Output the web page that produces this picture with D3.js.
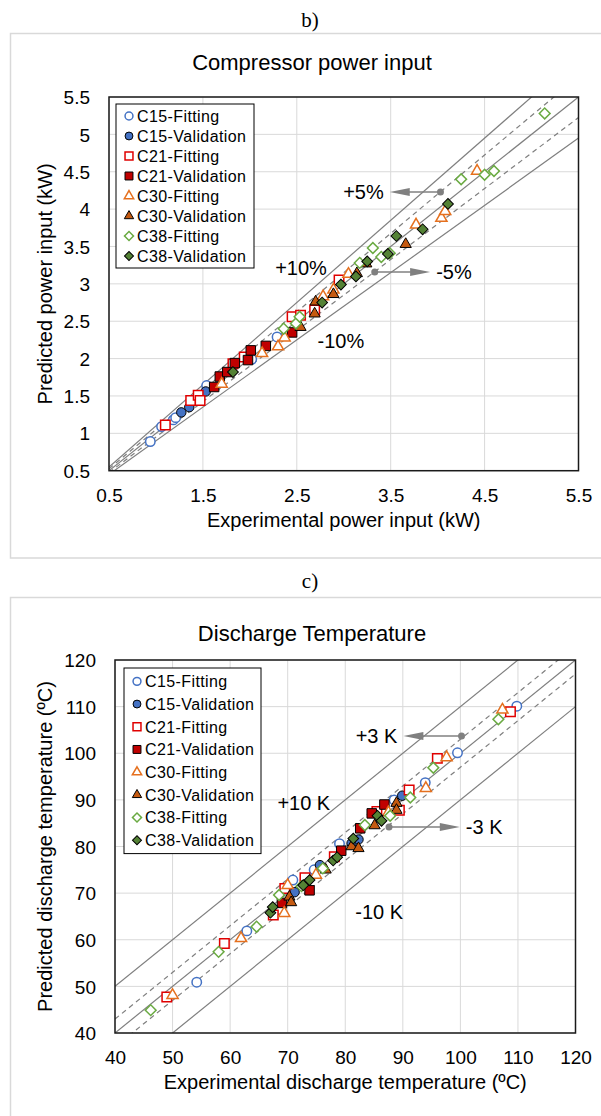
<!DOCTYPE html>
<html>
<head>
<meta charset="utf-8">
<script src="https://cdn.jsdelivr.net/npm/d3@7"></script>
<style>
  body { margin: 0; background: #fff; }
  svg { display: block; }
  text { font-family: "Liberation Sans", Arial, sans-serif; fill: #000; }
</style>
</head>
<body>
<script>
// ---- b) compressor power input, [experimental, predicted] in kW
let powerC15Fit = [[0.94, 0.89], [1.06, 1.09], [1.185, 1.18], [1.21, 1.21], [1.54, 1.64], [2.02, 1.99], [2.29, 2.29]]
let powerC15Val = [[1.27, 1.28], [1.355, 1.35], [1.45, 1.49], [1.53, 1.56]]
let powerC21Fit = [[1.10, 1.11], [1.37, 1.44], [1.45, 1.51], [1.47, 1.44], [1.82, 1.93], [1.94, 2.02], [2.45, 2.56], [2.54, 2.58], [2.69, 2.65], [2.95, 3.05]]
let powerC21Val = [[1.62, 1.62], [1.68, 1.76], [1.76, 1.82], [1.84, 1.94], [1.98, 1.98], [2.01, 2.11], [2.17, 2.17], [2.45, 2.35]]
let powerC30Fit = [[1.70, 1.66], [2.13, 2.07], [2.30, 2.16], [2.37, 2.28], [2.78, 2.83], [2.89, 2.92], [3.05, 3.13], [3.77, 3.79], [4.04, 3.88], [4.08, 3.97], [4.42, 4.51]]
let powerC30Val = [[2.54, 2.42], [2.69, 2.60], [2.70, 2.76], [2.89, 2.86], [3.14, 3.14], [3.24, 3.27], [3.66, 3.53]]
let powerC38Fit = [[2.36, 2.40], [2.49, 2.47], [2.53, 2.56], [3.17, 3.28], [3.31, 3.48], [3.40, 3.36], [3.49, 3.41], [4.25, 4.40], [4.50, 4.46], [4.60, 4.51], [5.14, 5.28]]
let powerC38Val = [[1.82, 1.82], [2.77, 2.75], [2.97, 2.99], [3.13, 3.10], [3.25, 3.30], [3.47, 3.40], [3.56, 3.64], [3.84, 3.73], [4.11, 4.07]]

// ---- c) discharge temperature, [experimental, predicted] in ºC
let tempC15Fit = [[54.2, 50.9], [62.9, 61.9], [70.9, 72.8], [74.6, 75.0], [79.0, 80.6], [88.5, 90.0], [93.9, 93.7], [99.5, 100.1], [109.8, 110.1]]
let tempC15Val = [[71.2, 70.2], [75.6, 76.0], [81.1, 80.7], [82.3, 81.5], [89.9, 90.9]]
let tempC21Fit = [[49.0, 47.7], [59.0, 59.2], [67.5, 65.3], [69.5, 71.0], [73.0, 73.3], [78.1, 77.8], [85.5, 87.5], [89.4, 87.8], [91.1, 92.1], [96.0, 98.9], [108.7, 108.9]]
let tempC21Val = [[69.0, 67.9], [73.8, 70.6], [79.3, 79.1], [82.6, 83.9], [84.6, 87.1], [86.8, 89.0]]
let tempC30Fit = [[50.0, 48.1], [61.9, 60.3], [69.4, 65.7], [70.0, 71.7], [74.9, 73.9], [87.5, 87.3], [94.0, 92.5], [97.6, 99.1], [107.3, 109.3]]
let tempC30Val = [[70.3, 69.2], [70.6, 68.0], [76.6, 75.0], [81.1, 80.0], [82.3, 79.6], [85.1, 84.5], [88.9, 89.3], [88.9, 87.8]]
let tempC38Fit = [[46.2, 44.9], [58.0, 57.4], [64.6, 62.8], [68.5, 69.6], [72.4, 71.5], [76.1, 75.3], [83.4, 84.6], [87.8, 86.6], [91.3, 90.5], [95.3, 96.9], [106.6, 107.3]]
let tempC38Val = [[67.0, 65.8], [67.4, 67.0], [72.7, 71.7], [73.8, 72.8], [77.9, 77.0], [78.6, 77.7], [81.4, 81.7], [85.6, 86.6], [86.3, 85.5]]

let seriesNames = ['C15-Fitting', 'C15-Validation', 'C21-Fitting', 'C21-Validation', 'C30-Fitting', 'C30-Validation', 'C38-Fitting', 'C38-Validation']

let powerTicksX = [0.5, 1.5, 2.5, 3.5, 4.5, 5.5]
let powerTicksY = [0.5, 1, 1.5, 2, 2.5, 3, 3.5, 4, 4.5, 5, 5.5]
let tempTicks = [40, 50, 60, 70, 80, 90, 100, 110, 120]

// reference lines: ratio for power, offset for temperature
let powerRatios = [1, 1.1, 0.9, 1.05, 0.95]
let tempOffsets = [0, 10, -10, 3, -3]
let lineDashed = [false, false, false, true, true]

let powerLabels = [{ t: '+10%', x: 2.545, y: 3.21 }, { t: '-10%', x: 2.97, y: 2.23 }]
let powerArrows = [{ t: '+5%', x: 4.03, y: 4.23, tip: 3.49 }, { t: '-5%', x: 3.33, y: 3.16, tip: 3.92 }]
let tempLabels = [{ t: '+10 K', x: 72.8, y: 89.3 }, { t: '-10 K', x: 85.9, y: 66.0 }]
let tempArrows = [{ t: '+3 K', x: 100.2, y: 103.7, tip: 90.1 }, { t: '-3 K', x: 87.6, y: 84.2, tip: 99.9 }]

// marker look per series
let markerStyle = [
    { shape: 'circle', color: '#4472C4', filled: false },
    { shape: 'circle', color: '#4472C4', filled: true },
    { shape: 'square', color: '#E00000', filled: false },
    { shape: 'square', color: '#C00000', filled: true },
    { shape: 'triangle', color: '#E5701E', filled: false },
    { shape: 'triangle', color: '#C55A11', filled: true },
    { shape: 'diamond', color: '#6AAA42', filled: false },
    { shape: 'diamond', color: '#548235', filled: true }
]

let symbolPath = (shape, k) => {
    if (shape === 'circle') return d3.symbol(d3.symbolCircle, 70 * k)()
    if (shape === 'square') return d3.symbol(d3.symbolSquare, 90 * k)()
    if (shape === 'triangle') return d3.symbol(d3.symbolTriangle, 54 * k)()
    return d3.symbol(d3.symbolSquare, 58 * k)()
}

let drawMarker = (g, st, k) => {
    g.append('path')
        .attr('d', symbolPath(st.shape, k))
        .attr('transform', st.shape === 'diamond' ? 'rotate(45)' : null)
        .attr('fill', st.filled ? st.color : '#fff')
        .attr('stroke', st.filled ? '#000' : st.color)
        .attr('stroke-width', st.filled ? 1 : 1.5)
}

let svg = d3.select('body').append('svg')
    .attr('width', 601)
    .attr('height', 1116)

let drawChart = (cfg) => {
    let { id, top, bottom, left, right, domain, ticksX, ticksY, series, title, titleY, xTitle, yTitle, refLine, labels, arrows, legend } = cfg

    let x = d3.scaleLinear().domain(domain).range([left, right])
    let y = d3.scaleLinear().domain(domain).range([bottom, top])
    let fmt = d => String(+d.toFixed(1))

    svg.append('clipPath').attr('id', id)
        .append('rect')
        .attr('x', left).attr('y', top)
        .attr('width', right - left).attr('height', bottom - top)

    // gridlines
    svg.append('g').selectAll('line').data(ticksX).enter().append('line')
        .attr('x1', d => x(d)).attr('x2', d => x(d))
        .attr('y1', top).attr('y2', bottom)
        .attr('stroke', '#d9d9d9').attr('stroke-width', 1)
    svg.append('g').selectAll('line').data(ticksY).enter().append('line')
        .attr('y1', d => y(d)).attr('y2', d => y(d))
        .attr('x1', left).attr('x2', right)
        .attr('stroke', '#d9d9d9').attr('stroke-width', 1)

    // axes (labels only)
    let ax = svg.append('g')
        .attr('transform', `translate(0,${bottom})`)
        .call(d3.axisBottom(x).tickValues(ticksX).tickFormat(fmt).tickSize(0).tickPadding(18))
    let ay = svg.append('g')
        .attr('transform', `translate(${left},0)`)
        .call(d3.axisLeft(y).tickValues(ticksY).tickFormat(fmt).tickSize(0).tickPadding(19))
    ;[ax, ay].forEach(a => {
        a.select('.domain').remove()
        a.selectAll('text').style('font-size', '19px').attr('fill', '#000')
            .style('font-family', '"Liberation Sans", Arial, sans-serif')
    })
    ay.selectAll('text').attr('dy', '0.35em')

    // reference lines
    let line = d3.line().x(d => x(d[0])).y(d => y(d[1]))
    svg.append('g').attr('clip-path', `url(#${id})`)
        .selectAll('path').data(refLine).enter().append('path')
        .attr('d', d => line(domain.map(v => [v, d.f(v)])))
        .attr('fill', 'none')
        .attr('stroke', '#7f7f7f')
        .attr('stroke-width', 1.2)
        .attr('stroke-dasharray', d => d.dashed ? '5,4' : null)

    // points
    series.forEach((pts, i) => {
        let g = svg.append('g').attr('class', 'series')
        pts.forEach(p => {
            let m = g.append('g').attr('transform', `translate(${x(p[0])},${y(p[1])})`)
            drawMarker(m, markerStyle[i], 1)
        })
    })

    // plot border
    svg.append('rect')
        .attr('x', left).attr('y', top)
        .attr('width', right - left).attr('height', bottom - top)
        .attr('fill', 'none').attr('stroke', '#1a1a1a').attr('stroke-width', 1.5)

    // titles
    svg.append('text')
        .attr('x', 312).attr('y', titleY)
        .attr('text-anchor', 'middle')
        .style('font-size', '22px')
        .text(title)
    svg.append('text')
        .attr('x', (left + right) / 2).attr('y', bottom + 56)
        .attr('text-anchor', 'middle')
        .style('font-size', '20px')
        .text(xTitle)
    svg.append('text')
        .attr('transform', `translate(45,${(top + bottom) / 2}) rotate(-90)`)
        .attr('dy', '0.35em')
        .attr('text-anchor', 'middle')
        .style('font-size', '20px')
        .text(yTitle)

    // legend
    let lg = svg.append('g').attr('transform', `translate(${legend.x},${legend.y})`)
    lg.append('rect')
        .attr('width', legend.w).attr('height', legend.step * 8 + 4)
        .attr('fill', '#fff').attr('stroke', '#000').attr('stroke-width', 1)
    seriesNames.forEach((name, i) => {
        let row = lg.append('g').attr('transform', `translate(0,${legend.step * (i + 0.5) + 2})`)
        let m = row.append('g').attr('transform', 'translate(13,0)')
        drawMarker(m, markerStyle[i], 0.7)
        row.append('text')
            .attr('x', 21).attr('dy', '0.36em')
            .style('font-size', '16px')
            .style('letter-spacing', '0.4px')
            .text(name)
    })

    // annotations
    labels.forEach(l => {
        svg.append('text')
            .attr('x', x(l.x)).attr('y', y(l.y)).attr('dy', '0.35em')
            .attr('text-anchor', 'middle')
            .style('font-size', '20px')
            .text(l.t)
    })
    arrows.forEach(a => {
        let x0 = x(a.x), y0 = y(a.y), x1 = x(a.tip)
        let dir = x1 < x0 ? -1 : 1
        svg.append('circle').attr('cx', x0).attr('cy', y0).attr('r', 3.5).attr('fill', '#808080')
        svg.append('line')
            .attr('x1', x0).attr('y1', y0).attr('x2', x1 - dir * 10).attr('y2', y0)
            .attr('stroke', '#808080').attr('stroke-width', 1.5)
        svg.append('path')
            .attr('d', `M${x1},${y0}L${x1 - dir * 20},${y0 - 4}L${x1 - dir * 20},${y0 + 4}Z`)
            .attr('fill', '#808080')
        svg.append('text')
            .attr('x', x1 + dir * 6).attr('y', y0).attr('dy', '0.35em')
            .attr('text-anchor', dir < 0 ? 'end' : 'start')
            .style('font-size', '20px')
            .text(a.t)
    })
}

// panel frames and sub-figure letters
svg.append('rect').attr('x', 10.5).attr('y', 33.5).attr('width', 620).attr('height', 524.5)
    .attr('fill', '#fff').attr('stroke', '#d9d9d9').attr('stroke-width', 1.5)
svg.append('rect').attr('x', 10.5).attr('y', 597.5).attr('width', 620).attr('height', 600)
    .attr('fill', '#fff').attr('stroke', '#d9d9d9').attr('stroke-width', 1.5)
svg.append('text').attr('x', 310).attr('y', 27).attr('text-anchor', 'middle')
    .style('font-family', '"Liberation Serif", "Times New Roman", serif').style('font-size', '21px').text('b)')
svg.append('text').attr('x', 310).attr('y', 588).attr('text-anchor', 'middle')
    .style('font-family', '"Liberation Serif", "Times New Roman", serif').style('font-size', '21px').text('c)')

drawChart({
    id: 'clipPower',
    top: 97, bottom: 470.7, left: 109, right: 578.5,
    domain: [0.5, 5.5],
    ticksX: powerTicksX, ticksY: powerTicksY,
    series: [powerC15Fit, powerC15Val, powerC21Fit, powerC21Val, powerC30Fit, powerC30Val, powerC38Fit, powerC38Val],
    title: 'Compressor power input', titleY: 70,
    xTitle: 'Experimental power input (kW)',
    yTitle: 'Predicted power input (kW)',
    refLine: powerRatios.map((r, i) => ({ f: v => v * r, dashed: lineDashed[i] })),
    labels: powerLabels, arrows: powerArrows,
    legend: { x: 116, y: 104, w: 138, step: 20 }
})

drawChart({
    id: 'clipTemp',
    top: 660, bottom: 1033, left: 115, right: 575.5,
    domain: [40, 120],
    ticksX: tempTicks, ticksY: tempTicks,
    series: [tempC15Fit, tempC15Val, tempC21Fit, tempC21Val, tempC30Fit, tempC30Val, tempC38Fit, tempC38Val],
    title: 'Discharge Temperature', titleY: 641,
    xTitle: 'Experimental discharge temperature (ºC)',
    yTitle: 'Predicted discharge temperature (ºC)',
    refLine: tempOffsets.map((o, i) => ({ f: v => v + o, dashed: lineDashed[i] })),
    labels: tempLabels, arrows: tempArrows,
    legend: { x: 124, y: 668, w: 137, step: 22.7 }
})
</script>
</body>
</html>
